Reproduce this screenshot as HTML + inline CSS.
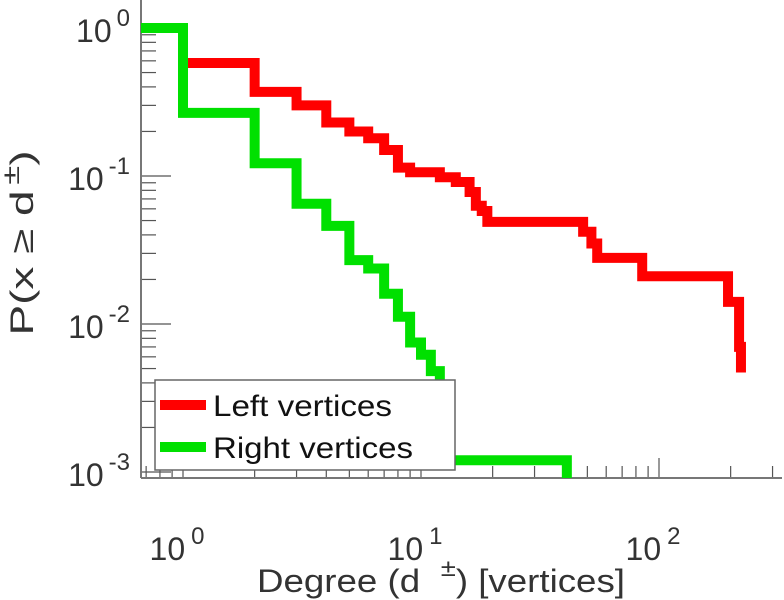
<!DOCTYPE html>
<html><head><meta charset="utf-8"><style>
html,body{margin:0;padding:0;background:#fff;}
svg{display:block;font-family:"Liberation Sans",sans-serif;}
</style></head><body>
<svg id="chart" width="784" height="600" viewBox="0 0 784 600" xmlns="http://www.w3.org/2000/svg">
<g id="axes"></g>
<g id="series"></g>
<g id="labels"></g>
<text x="441" y="592" font-size="32" fill="#333" text-anchor="middle" textLength="368" lengthAdjust="spacingAndGlyphs">Degree (d<tspan font-size="24" dy="-16" dx="18">±</tspan><tspan dy="16">) [vertices]</tspan></text>
<text transform="translate(33,243) rotate(-90)" font-size="32" fill="#333" text-anchor="middle" textLength="185" lengthAdjust="spacingAndGlyphs">P(x ≥ d<tspan font-size="24" dy="-14" dx="4">±</tspan><tspan dy="14">)</tspan></text>
<g>
<rect x="155" y="380" width="300" height="90" fill="#fff" stroke="#666" stroke-width="1.5"/>
<line x1="160" y1="405" x2="206" y2="405" stroke="#ff0000" stroke-width="10"/>
<text x="213" y="416" font-size="30" fill="#111" textLength="179" lengthAdjust="spacingAndGlyphs">Left vertices</text>
<line x1="160" y1="447" x2="206" y2="447" stroke="#00e000" stroke-width="10"/>
<text x="213" y="458" font-size="30" fill="#111" textLength="200" lengthAdjust="spacingAndGlyphs">Right vertices</text>
</g>
</svg>
<script>
const leftDegrees = [1,2,3,4,5,6,7,8,9,12,14,16,17,18,19,48,52,55,85,195,217,221];
const leftProbs = [0.58,0.37,0.30,0.23,0.20,0.18,0.15,0.114,0.106,0.098,0.091,0.078,0.063,0.058,0.049,0.042,0.035,0.028,0.021,0.0141,0.0070,0.0047];
const rightDegrees = [1,2,3,4,5,6,7,8,9,10,11,12,13,41];
const rightProbs = [0.267,0.122,0.065,0.046,0.027,0.0237,0.016,0.0112,0.0075,0.0062,0.0048,0.003,0.0012,0.0009];
const xTickExps = [0,1,2];
const yTickExps = [0,-1,-2,-3];

const X0 = 183, XDEC = 238, Y0 = 28, YDEC = 148;
const LEFT = 141, RIGHT = 782, TOP = 0, BOTTOM = 478;
function xs(d){ return X0 + XDEC * Math.log10(d); }
function ys(p){ return Math.min(BOTTOM, Y0 - YDEC * Math.log10(p)); }
const NS = "http://www.w3.org/2000/svg";
function mk(tag, attrs, parent){ const e = document.createElementNS(NS, tag); for (const k in attrs) e.setAttribute(k, attrs[k]); parent.appendChild(e); return e; }

const axes = document.getElementById('axes');
for (let k = -4; k <= 0; k++) {
  for (let m = 1; m <= 9; m++) {
    const v = m * Math.pow(10, k); const yr = Y0 - YDEC*Math.log10(v);
    if (yr < TOP || yr > BOTTOM) continue;
    const t = mk('line', {x1: LEFT, x2: LEFT + (m === 1 ? 30 : 15), y1: yr, y2: yr, stroke: '#555', 'stroke-width': 1.2}, axes);
    
    
  }
}
for (let k = -1; k <= 2; k++) {
  for (let m = 1; m <= 9; m++) {
    const v = m * Math.pow(10, k); const x = xs(v);
    if (x < LEFT || x > RIGHT) continue;
    const t = mk('line', {x1: x, x2: x, y1: BOTTOM, y2: BOTTOM - (m === 1 ? 20 : 12), stroke: '#555', 'stroke-width': 1.2}, axes);
    
    
  }
}
const ya = mk('line', {x1: LEFT, x2: LEFT, y1: TOP, y2: BOTTOM, stroke: '#777', 'stroke-width': 2}, axes);


const xa = mk('line', {x1: LEFT, x2: RIGHT, y1: BOTTOM, y2: BOTTOM, stroke: '#777', 'stroke-width': 2}, axes);



const series = document.getElementById('series');
function stepPath(deg, pr){
  let d = 'M' + LEFT + ',' + ys(1) + ' L' + xs(deg[0]) + ',' + ys(1);
  for (let i = 0; i < deg.length; i++) {
    d += ' L' + xs(deg[i]) + ',' + ys(pr[i]);
    if (i + 1 < deg.length) d += ' L' + xs(deg[i+1]) + ',' + ys(pr[i]);
  }
  return d;
}
const pl = mk('path', {d: stepPath(leftDegrees, leftProbs), fill: 'none', stroke: '#ff0000', 'stroke-width': 10, 'stroke-linejoin': 'miter'}, series);


const pr = mk('path', {d: stepPath(rightDegrees, rightProbs), fill: 'none', stroke: '#00e000', 'stroke-width': 10, 'stroke-linejoin': 'miter'}, series);



const labels = document.getElementById('labels');
xTickExps.forEach(e => {
  const t = mk('text', {x: xs(Math.pow(10, e)) - 6, y: 560, 'font-size': 32, fill: '#333', 'text-anchor': 'middle'}, labels);
  
  
  t.innerHTML = '10<tspan font-size="24" dy="-16" dx="6">' + e + '</tspan>';
});
yTickExps.forEach(e => {
  const y = Y0 - YDEC * e;
  const t = mk('text', {x: 130, y: y + 14, 'font-size': 32, fill: '#333', 'text-anchor': 'end'}, labels);
  
  
  t.innerHTML = '10<tspan font-size="24" dy="-16" dx="5">' + e + '</tspan>';
});
</script>
</body></html>
